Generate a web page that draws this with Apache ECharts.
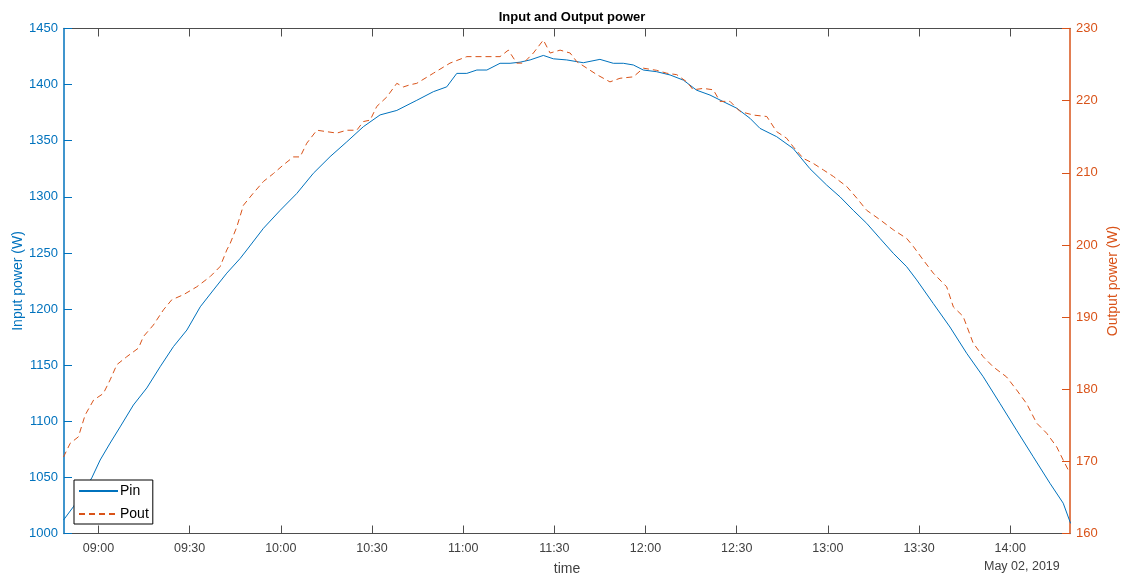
<!DOCTYPE html>
<html>
<head>
<meta charset="utf-8">
<script src="https://cdn.jsdelivr.net/npm/echarts@6/dist/echarts.min.js"></script>
<style>html,body{margin:0;padding:0;background:#fff;}#c{width:1124px;height:578px;}</style>
</head>
<body>
<div id="c"></div>
<script>
const pinTime = ['08:48:30','08:51:48','08:57:48','09:00:34','09:03:51','09:07:08','09:11:30','09:15:55','09:20:18','09:24:40','09:29:06','09:33:30','09:37:50','09:42:14','09:46:36','09:48:48','09:54:18','09:59:48','10:05:16','10:10:43','10:16:13','10:21:42','10:27:10','10:32:40','10:38:10','10:42:32','10:44:44','10:50:12','10:54:36','10:57:54','11:01:12','11:04:30','11:07:48','11:12:08','11:15:26','11:18:44','11:22:02','11:26:23','11:29:40','11:34:05','11:39:32','11:45:00','11:49:24','11:52:42','11:56:00','11:59:17','12:03:41','12:08:04','12:12:27','12:16:50','12:21:13','12:25:36','12:30:00','12:34:22','12:37:40','12:43:09','12:48:37','12:54:07','12:59:36','13:04:00','13:08:21','13:12:46','13:17:08','13:21:31','13:25:56','13:29:13','13:34:40','13:40:10','13:45:40','13:51:07','13:56:36','14:02:06','14:07:34','14:13:05','14:17:26','14:19:52'];
const pinValues = [1012,1024,1049.5,1065.5,1080.6,1095,1114.5,1129.7,1148.6,1166.5,1181.3,1202,1217,1232,1245,1252.6,1272,1288,1303,1321,1335.8,1349,1362.5,1373,1377,1383,1386,1393.7,1398,1410,1410,1413,1413,1419,1419,1420,1422,1426,1423,1422,1419.5,1422.5,1419,1419,1417.5,1413,1411.5,1408.6,1404,1395,1390.7,1384.8,1379,1370,1361,1353.6,1343,1325,1310.5,1300,1288,1276.4,1263,1249.7,1237.7,1226,1205,1184,1160.6,1139.7,1116,1092,1068.4,1044.7,1027,1009];

const poutTime = ['08:48:30','08:50:42','08:53:24','08:55:36','08:58:24','09:01:36','09:03:51','09:06:03','09:09:18','09:13:10','09:14:48','09:18:05','09:21:23','09:24:08','09:27:58','09:32:22','09:36:44','09:40:02','09:42:14','09:43:20','09:45:32','09:47:42','09:51:00','09:54:18','09:57:35','10:00:52','10:04:09','10:06:21','10:08:33','10:11:51','10:15:08','10:18:25','10:21:42','10:25:00','10:27:10','10:29:23','10:31:35','10:34:52','10:38:10','10:40:20','10:42:32','10:44:44','10:50:12','10:55:40','11:01:12','11:06:38','11:12:08','11:14:52','11:17:38','11:19:48','11:23:06','11:26:23','11:28:36','11:31:54','11:35:12','11:37:24','11:40:42','11:44:00','11:48:18','11:51:36','11:56:00','11:59:17','12:03:41','12:07:00','12:10:17','12:13:35','12:15:42','12:19:00','12:22:18','12:24:30','12:27:48','12:31:05','12:35:30','12:39:54','12:43:09','12:46:24','12:48:37','12:51:54','12:55:12','12:58:30','13:01:48','13:06:12','13:09:30','13:12:46','13:17:08','13:21:31','13:25:56','13:28:06','13:31:24','13:34:40','13:39:05','13:41:18','13:44:30','13:47:48','13:51:07','13:54:24','13:58:48','14:02:06','14:05:24','14:08:42','14:12:00','14:15:18','14:17:24','14:19:06'];
const poutValues = [170.6,172.5,173.4,176.4,178.5,179.4,181.3,183.4,184.5,185.7,187.3,188.9,191,192.4,193.1,194.2,195.6,197,199.3,200.2,202.5,205.5,207.2,208.8,209.9,211.1,212.2,212.2,214.1,215.9,215.7,215.5,215.9,215.9,217.1,217.3,219.2,220.5,222.4,221.9,222.2,222.4,223.8,225.2,226.1,226.1,226.1,227,225.2,225.2,226.6,228.4,226.6,227,226.6,225.4,224.5,223.6,222.6,223.1,223.3,224.5,224.2,223.8,223.6,222.6,221.5,221.7,221.5,219.9,219.9,218.5,218,217.8,215.7,214.8,213.6,212,211.3,210.4,209.5,208.1,206.5,204.8,203.5,202.1,200.9,199.8,197.9,196.1,194.2,191.4,190.1,186.4,184.5,183.1,181.7,179.9,178,175.3,173.9,172,170.2,168.8];

const xTickLabels = ['09:00','09:30','10:00','10:30','11:00','11:30','12:00','12:30','13:00','13:30','14:00'];
const xRange = ['08:48:40','14:19:40'];
const dateLabel = 'May 02, 2019';
const titleText = 'Input and Output power';
const xName = 'time';
const yLeftName = 'Input power (W)';
const yRightName = 'Output power (W)';
const seriesNames = ['Pin','Pout'];

// time string -> minutes since midnight
function toMin(s){const p=s.split(':').map(Number);return p[0]*60+p[1]+(p[2]||0)/60;}
function pad(n){return (n<10?'0':'')+n;}
function fmt(v){const m=Math.round(v);return pad(Math.floor(m/60))+':'+pad(m%60);}

const tickVals = xTickLabels.map(toMin);
const FONT = 'Liberation Sans, Arial, Helvetica, sans-serif';
const AX = '#4d4d4d';
const BLUE = '#0072BD';
const ORANGE = '#D95319';

const chart = echarts.init(document.getElementById('c'), null, {renderer:'canvas'});
chart.setOption({
  animation:false,
  backgroundColor:'#fff',
  textStyle:{fontFamily:FONT},
  title:{text:titleText,left:567,top:6,textAlign:'center',textStyle:{fontFamily:FONT,fontSize:13,fontWeight:'bold',color:'#000'}},
  grid:{left:64,right:54,top:28.5,bottom:44.5,containLabel:false,outerBoundsMode:'none'},
  legend:{
    orient:'vertical',left:74,top:480,
    data:seriesNames,
    itemWidth:39,itemHeight:12,itemGap:9,
    padding:[4,4,3,4],
    borderColor:'#000',borderWidth:1,backgroundColor:'#fff',
    itemStyle:{opacity:0,borderWidth:0},
    textStyle:{fontFamily:FONT,fontSize:14,color:'#000',padding:[0,0,0,-3]}
  },
  xAxis:[
    {type:'value',min:toMin(xRange[0]),max:toMin(xRange[1]),position:'bottom',
     axisLine:{show:true,lineStyle:{color:AX,width:1}},
     axisTick:{show:true,inside:true,length:8,lineStyle:{color:AX},customValues:tickVals},
     axisLabel:{show:true,customValues:tickVals,formatter:fmt,color:'#404040',fontSize:12.5,margin:9,fontFamily:FONT,showMinLabel:true,showMaxLabel:true},
     splitLine:{show:false},
     name:xName,nameLocation:'middle',nameGap:29,nameMoveOverlap:false,nameTextStyle:{fontFamily:FONT,fontSize:14,color:'#404040'}},
    {type:'value',min:toMin(xRange[0]),max:toMin(xRange[1]),position:'top',
     axisLine:{show:true,lineStyle:{color:AX,width:1}},
     axisTick:{show:true,inside:true,length:8,lineStyle:{color:AX},customValues:tickVals},
     axisLabel:{show:false},splitLine:{show:false}}
  ],
  yAxis:[
    {type:'value',min:1000,max:1450,interval:50,position:'left',
     axisLine:{show:true,lineStyle:{color:BLUE,width:1.5}},
     axisTick:{show:true,inside:true,length:8,lineStyle:{color:BLUE}},
     axisLabel:{color:BLUE,fontSize:13,margin:6,fontFamily:FONT,formatter:v=>String(v)},
     splitLine:{show:false},
     name:yLeftName,nameLocation:'middle',nameGap:39,nameRotate:90,nameMoveOverlap:false,
     nameTextStyle:{fontFamily:FONT,fontSize:14,color:BLUE}},
    {type:'value',min:160,max:230,interval:10,position:'right',
     axisLine:{show:true,lineStyle:{color:ORANGE,width:1.5}},
     axisTick:{show:true,inside:true,length:8,lineStyle:{color:ORANGE}},
     axisLabel:{color:ORANGE,fontSize:13,margin:6,fontFamily:FONT,formatter:v=>String(v)},
     splitLine:{show:false},
     name:yRightName,nameLocation:'middle',nameGap:36,nameRotate:90,nameMoveOverlap:false,
     nameTextStyle:{fontFamily:FONT,fontSize:14,color:ORANGE}}
  ],
  graphic:[
    {type:'text',left:984,top:560,style:{text:dateLabel,fontFamily:FONT,fontSize:12.5,fill:'#404040'}}
  ],
  series:[
    {name:seriesNames[0],type:'line',xAxisIndex:0,yAxisIndex:0,showSymbol:false,symbol:'none',
     data:pinTime.map((t,i)=>[toMin(t),pinValues[i]]),
     lineStyle:{color:BLUE,width:1},itemStyle:{color:BLUE}},
    {name:seriesNames[1],type:'line',xAxisIndex:0,yAxisIndex:1,showSymbol:false,symbol:'none',
     data:poutTime.map((t,i)=>[toMin(t),poutValues[i]]),
     lineStyle:{color:ORANGE,width:1,type:[6,4]},itemStyle:{color:ORANGE}}
  ]
});
</script>
</body>
</html>
